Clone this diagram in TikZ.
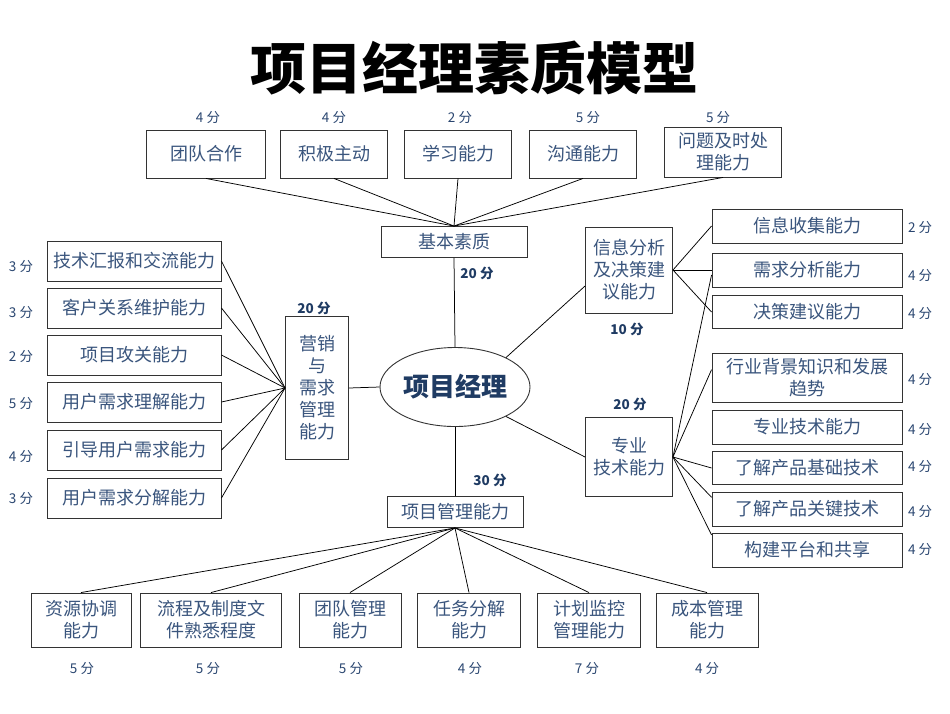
\documentclass[tikz,border=0pt]{standalone}
\usepackage{fontspec}
\newfontfamily\cjk{Noto Sans CJK SC}
\usetikzlibrary{positioning}
\usetikzlibrary{shapes.geometric}
\definecolor{textblue}{HTML}{3A557D}
\definecolor{scoreblue}{HTML}{2A4670}
\definecolor{boldblue}{HTML}{1F3B63}
\begin{document}
\begin{tikzpicture}[
    x=1pt, y=-1pt,
% box style
    box/.style={rectangle,draw=black!80,line width=0.9pt,fill=white,inner sep=0pt,
		align=center,text=textblue,font={\cjk\fontsize{18}{22}\selectfont}},
    score/.style={text=scoreblue,font={\cjk\fontsize{13.5}{15}\selectfont}},
    bscore/.style={text=boldblue,font={\cjk\bfseries\fontsize{13.5}{15}\selectfont}},
    link/.style={draw=black,line width=0.75pt}
    ]

  \useasboundingbox (0,0) rectangle (950,713);

  \node (title) at (474,68) [font={\cjk\bfseries\fontsize{56}{60}\selectfont}] {项目经理素质模型};

  % centre
  \node (pm) at (455,387) [ellipse,draw=black!80,line width=0.9pt,fill=white,minimum width=150pt,
	minimum height=79pt,inner sep=0pt,text=boldblue,font={\cjk\bfseries\fontsize{26}{28}\selectfont}] {项目经理};

  % basic qualities
  \node (jb) at (454,242) [box,minimum width=146pt,minimum height=31pt] {基本素质};
  \node (t1) at (206,154) [box,minimum width=119pt,minimum height=48pt] {团队合作};
  \node (t2) at (334,154) [box,minimum width=107pt,minimum height=48pt] {积极主动};
  \node (t3) at (458,154) [box,minimum width=107pt,minimum height=48pt] {学习能力};
  \node (t4) at (583,154) [box,minimum width=107pt,minimum height=48pt] {沟通能力};
  \node (t5) at (723,152) [box,minimum width=117pt,minimum height=50pt] {问题及时处\\理能力};
  \node (st1) at (208,118) [score] {4 分};
  \node (st2) at (334,118) [score] {4 分};
  \node (st3) at (460,118) [score] {2 分};
  \node (st4) at (588,118) [score] {5 分};
  \node (st5) at (718,118) [score] {5 分};
  \node (sjb) at (477,273) [bscore] {20 分};

  % marketing
  \node (mk) at (317,388) [box,minimum width=63pt,minimum height=143pt] {营销\\与\\需求\\管理\\能力};
  \node (smk) at (314,308) [bscore] {20 分};
  \node (l1) at (134,261) [box,minimum width=174pt,minimum height=40pt] {技术汇报和交流能力};
  \node (l2) at (134,308) [box,minimum width=174pt,minimum height=40pt] {客户关系维护能力};
  \node (l3) at (134,355) [box,minimum width=174pt,minimum height=40pt] {项目攻关能力};
  \node (l4) at (134,402) [box,minimum width=174pt,minimum height=40pt] {用户需求理解能力};
  \node (l5) at (134,450) [box,minimum width=174pt,minimum height=40pt] {引导用户需求能力};
  \node (l6) at (134,498) [box,minimum width=174pt,minimum height=40pt] {用户需求分解能力};
  \node (sl1) at (21,267) [score] {3 分};
  \node (sl2) at (21,313) [score] {3 分};
  \node (sl3) at (21,357) [score] {2 分};
  \node (sl4) at (21,404) [score] {5 分};
  \node (sl5) at (21,457) [score] {4 分};
  \node (sl6) at (21,499) [score] {3 分};

  % information / technical
  \node (info) at (629,270) [box,minimum width=87pt,minimum height=86pt] {信息分析\\及决策建\\议能力};
  \node (sinfo) at (627,329) [bscore] {10 分};
  \node (pro) at (629,457) [box,minimum width=87pt,minimum height=79pt] {专业\\技术能力};
  \node (spro) at (630,404) [bscore] {20 分};
  \node (r1) at (807,226) [box,minimum width=190pt,minimum height=34pt] {信息收集能力};
  \node (r2) at (807,270) [box,minimum width=190pt,minimum height=34pt] {需求分析能力};
  \node (r3) at (807,312) [box,minimum width=190pt,minimum height=33pt] {决策建议能力};
  \node (r4) at (807,378) [box,minimum width=190pt,minimum height=49pt] {行业背景知识和发展\\趋势};
  \node (r5) at (807,427) [box,minimum width=190pt,minimum height=34pt] {专业技术能力};
  \node (r6) at (807,468) [box,minimum width=190pt,minimum height=33pt] {了解产品基础技术};
  \node (r7) at (807,509) [box,minimum width=190pt,minimum height=34pt] {了解产品关键技术};
  \node (r8) at (807,550) [box,minimum width=190pt,minimum height=34pt] {构建平台和共享};
  \node (sr1) at (920,228) [score] {2 分};
  \node (sr2) at (920,276) [score] {4 分};
  \node (sr3) at (920,314) [score] {4 分};
  \node (sr4) at (920,380) [score] {4 分};
  \node (sr5) at (920,430) [score] {4 分};
  \node (sr6) at (920,467) [score] {4 分};
  \node (sr7) at (920,512) [score] {4 分};
  \node (sr8) at (920,549) [score] {4 分};

  % project management
  \node (xm) at (455,512) [box,minimum width=136pt,minimum height=31pt] {项目管理能力};
  \node (sxm) at (490,480) [bscore] {30 分};
  \node (b1) at (81,620) [box,minimum width=100pt,minimum height=54pt] {资源协调\\能力};
  \node (b2) at (211,620) [box,minimum width=141pt,minimum height=54pt] {流程及制度文\\件熟悉程度};
  \node (b3) at (350,620) [box,minimum width=102pt,minimum height=54pt] {团队管理\\能力};
  \node (b4) at (469,620) [box,minimum width=103pt,minimum height=54pt] {任务分解\\能力};
  \node (b5) at (589,620) [box,minimum width=103pt,minimum height=54pt] {计划监控\\管理能力};
  \node (b6) at (707,620) [box,minimum width=102pt,minimum height=54pt] {成本管理\\能力};
  \node (sb1) at (82,668) [score] {5 分};
  \node (sb2) at (208,668) [score] {5 分};
  \node (sb3) at (351,668) [score] {5 分};
  \node (sb4) at (470,668) [score] {4 分};
  \node (sb5) at (587,668) [score] {7 分};
  \node (sb6) at (707,668) [score] {4 分};

  % connectors
  \draw[link] (t1.south) -- (jb.north);
  \draw[link] (t2.south) -- (jb.north);
  \draw[link] (t3.south) -- (jb.north);
  \draw[link] (t4.south) -- (jb.north);
  \draw[link] (t5.south) -- (jb.north);
  \draw[link] (jb.south) -- (pm.north);
  \draw[link] (pm.south) -- (xm.north);
  \draw[link] (mk.east) -- (pm.west);
  \draw[link] (pm.30) -- (info.200);
  \draw[link] (pm.330) -- (pro.west);

  \draw[link] (l1.east) -- (mk.west);
  \draw[link] (l2.east) -- (mk.west);
  \draw[link] (l3.east) -- (mk.west);
  \draw[link] (l4.east) -- (mk.west);
  \draw[link] (l5.east) -- (mk.west);
  \draw[link] (l6.east) -- (mk.west);

  \draw[link] (info.east) -- (r1.west);
  \draw[link] (info.east) -- (r2.west);
  \draw[link] (info.east) -- (r3.west);
  \draw[link] (pro.east) -- (r2.183);
  \draw[link] (pro.east) -- (r4.175);
  \draw[link] (pro.east) -- (r6.west);
  \draw[link] (pro.east) -- (r7.173);
  \draw[link] (pro.east) -- (r8.171);

  \draw[link] (xm.south) -- (b1.north);
  \draw[link] (xm.south) -- (b2.north);
  \draw[link] (xm.south) -- (b3.north);
  \draw[link] (xm.south) -- (b4.north);
  \draw[link] (xm.south) -- (b5.north);
  \draw[link] (xm.south) -- (b6.north);

\end{tikzpicture}
\end{document}
